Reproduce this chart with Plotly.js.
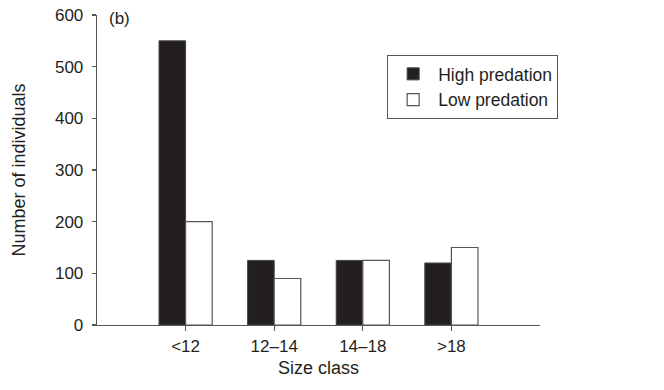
<!DOCTYPE html>
<html>
<head>
<meta charset="utf-8">
<script src="https://cdn.plot.ly/plotly-3.0.1.min.js"></script>
<style>html,body{margin:0;padding:0;background:#fff;}#chart{width:664px;height:390px;}</style>
</head>
<body>
<div id="chart"></div>
<script>
var categories = ["<12", "12\u201314", "14\u201318", ">18"];
var highPredation = [550, 125, 125, 120];
var lowPredation = [200, 90, 125, 150];
var yTicks = [0, 100, 200, 300, 400, 500, 600];

var xIdx = categories.map(function (c, i) { return i; });
var fam = "Liberation Sans, Arial, sans-serif";
var txt = "#231f20";

var traces = [
  {type: "bar", name: "High predation", x: xIdx, y: highPredation,
   marker: {color: "#231f20", line: {color: "#444", width: 1}}},
  {type: "bar", name: "Low predation", x: xIdx, y: lowPredation,
   marker: {color: "#ffffff", line: {color: "#555", width: 1.2}}}
];

var layout = {
  width: 664, height: 390,
  margin: {l: 97, r: 124, t: 15, b: 65},
  paper_bgcolor: "#fff", plot_bgcolor: "#fff",
  font: {family: fam, size: 17, color: txt},
  barmode: "group", bargap: 0.4, bargroupgap: 0,
  showlegend: true,
  legend: {x: 0.655, y: 0.871, xanchor: "left", yanchor: "top",
    bordercolor: "#555", borderwidth: 1, bgcolor: "#fff",
    font: {family: fam, size: 17.5, color: txt},
    itemwidth: 40, tracegroupgap: 0},
  xaxis: {range: [-1, 4], tickmode: "array", tickvals: xIdx, ticktext: categories,
    showline: true, linecolor: "#555", linewidth: 1.3, showgrid: false, zeroline: false,
    ticks: "outside", ticklen: 5, tickcolor: "#555", tickwidth: 1.2,
    tickfont: {family: fam, size: 17, color: txt},
    title: {text: "Size class", font: {family: fam, size: 18, color: txt}, standoff: 6}},
  yaxis: {range: [0, 600], tickmode: "array", tickvals: yTicks,
    showline: true, linecolor: "#555", linewidth: 1.3, showgrid: false, zeroline: false,
    ticks: "outside", ticklen: 4, tickcolor: "#555", tickwidth: 1.2, ticklabelstandoff: 5,
    tickfont: {family: fam, size: 17, color: txt},
    title: {text: "Number of individuals", font: {family: fam, size: 18, color: txt}, standoff: 24}},
  annotations: [{text: "(b)", xref: "paper", yref: "paper", x: 0.022, y: 0.99,
    xanchor: "left", yanchor: "middle", showarrow: false,
    font: {family: fam, size: 17, color: txt}}]
};

Plotly.newPlot("chart", traces, layout, {staticPlot: true, displayModeBar: false});
</script>
</body>
</html>
